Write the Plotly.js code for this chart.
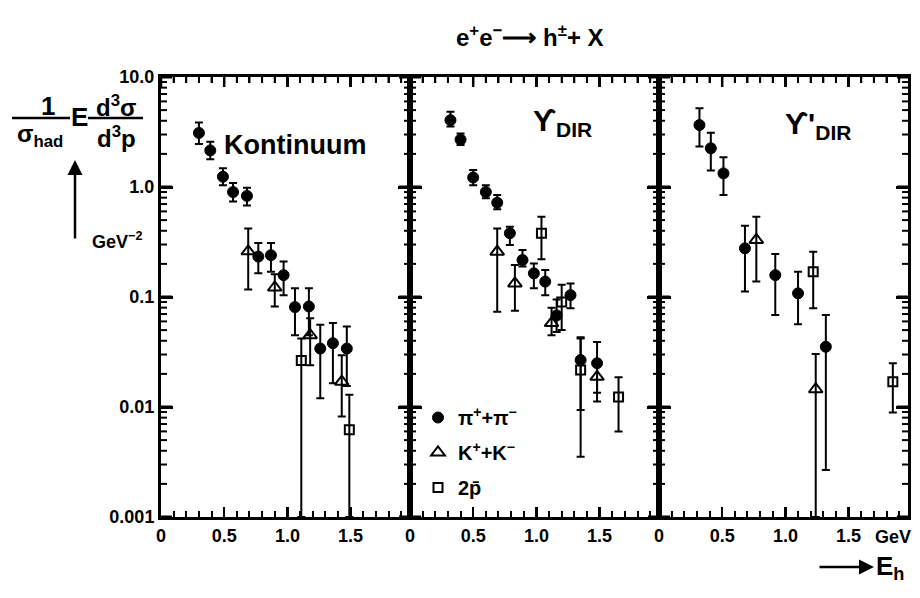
<!DOCTYPE html>
<html>
<head>
<meta charset="utf-8">
<script src="https://cdn.plot.ly/plotly-3.0.1.min.js"></script>
<style>html,body{margin:0;padding:0;background:#fff;}#chart{width:920px;height:598px;}</style>
</head>
<body>
<div id="chart"></div>
<script>
// ---------- DATA ----------
const panelNames = ["Kontinuum", "ϒ<sub>DIR</sub>", "ϒ'<sub>DIR</sub>"];
const seriesNames = ["π<sup>+</sup>+π<sup>−</sup>", "K<sup>+</sup>+K<sup>−</sup>", "2p̄"];
const xTickVals = [0, 0.5, 1.0, 1.5];
const xTickText = ["0", "0.5", "1.0", "1.5"];
const yTickVals = [0.001, 0.01, 0.1, 1, 10];
const yTickText = ["0.001", "0.01", "0.1", "1.0", "10.0"];

// Kontinuum
const kontPiX  = [0.30, 0.39, 0.49, 0.57, 0.68, 0.77, 0.87, 0.97, 1.06, 1.17, 1.26, 1.36, 1.47];
const kontPiY  = [3.1, 2.15, 1.24, 0.90, 0.83, 0.233, 0.24, 0.158, 0.081, 0.082, 0.034, 0.038, 0.034];
const kontPiHi = [3.85, 2.58, 1.48, 1.09, 0.985, 0.31, 0.31, 0.21, 0.12, 0.12, 0.056, 0.058, 0.054];
const kontPiLo = [2.46, 1.79, 1.04, 0.74, 0.68, 0.164, 0.17, 0.104, 0.045, 0.045, 0.012, 0.0164, 0.0155];
const kontKX   = [0.69, 0.90, 1.18, 1.43];
const kontKY   = [0.26, 0.122, 0.045, 0.017];
const kontKHi  = [0.42, 0.161, 0.064, 0.0295];
const kontKLo  = [0.117, 0.082, 0.024, 0.0082];
const kontPX   = [1.11, 1.49];
const kontPY   = [0.0265, 0.0062];
const kontPHi  = [0.042, 0.0129];
const kontPLo  = [0.001, 0.001];

// Upsilon direct
const dirPiX  = [0.32, 0.40, 0.50, 0.60, 0.69, 0.79, 0.89, 0.98, 1.07, 1.16, 1.27, 1.35, 1.48];
const dirPiY  = [4.05, 2.7, 1.22, 0.90, 0.72, 0.38, 0.217, 0.164, 0.138, 0.068, 0.104, 0.0267, 0.025];
const dirPiHi = [4.84, 3.07, 1.43, 1.04, 0.845, 0.436, 0.267, 0.202, 0.176, 0.095, 0.133, 0.043, 0.039];
const dirPiLo = [3.55, 2.41, 1.04, 0.79, 0.627, 0.297, 0.189, 0.12, 0.104, 0.048, 0.079, 0.0094, 0.0112];
const dirKX   = [0.69, 0.83, 1.12, 1.48];
const dirKY   = [0.258, 0.133, 0.058, 0.0188];
const dirKHi  = [0.42, 0.195, 0.08, 0.026];
const dirKLo  = [0.0736, 0.075, 0.045, 0.0135];
const dirPX   = [1.04, 1.20, 1.35, 1.65];
const dirPY   = [0.38, 0.09, 0.0217, 0.0123];
const dirPHi  = [0.537, 0.129, 0.042, 0.0186];
const dirPLo  = [0.22, 0.05, 0.00353, 0.006];

// Upsilon' direct
const dir2PiX  = [0.32, 0.41, 0.51, 0.68, 0.92, 1.10, 1.32];
const dir2PiY  = [3.66, 2.25, 1.33, 0.277, 0.158, 0.108, 0.0353];
const dir2PiHi = [5.19, 3.12, 1.86, 0.445, 0.246, 0.17, 0.0686];
const dir2PiLo = [2.33, 1.41, 0.845, 0.112, 0.0686, 0.0565, 0.00267];
const dir2KX   = [0.77, 1.24];
const dir2KY   = [0.33, 0.0145];
const dir2KHi  = [0.537, 0.0303];
const dir2KLo  = [0.138, 0.001];
const dir2PX   = [1.22, 1.85];
const dir2PY   = [0.17, 0.017];
const dir2PHi  = [0.258, 0.025];
const dir2PLo  = [0.079, 0.0089];

// ---------- BUILD ----------
const FONT = "'Liberation Sans',Arial,sans-serif";
const W = 920, H = 598, ML = 161, MR = 12, MT = 77, MB = 81;
const PW = W - ML - MR, PH = H - MT - MB;
const px = v => (v - ML) / PW;
const py = v => (H - MB - v) / PH;

const markerStyles = [
  {symbol: 'circle', size: 11, color: 'black', line: {color: 'black', width: 1}},
  {symbol: 'triangle-up-open', size: 12, color: 'black', line: {color: 'black', width: 2}},
  {symbol: 'square-open', size: 9, color: 'black', line: {color: 'black', width: 2}}
];

function mk(xs, ys, hi, lo, s, panel) {
  const ax = panel === 0 ? '' : String(panel + 1);
  return {
    type: 'scatter', mode: 'markers', x: xs, y: ys,
    xaxis: 'x' + ax, yaxis: 'y' + ax,
    name: seriesNames[s], legendgroup: 's' + s,
    showlegend: panel === 1,
    marker: markerStyles[s],
    error_y: {type: 'data', symmetric: false,
      array: ys.map((y, i) => hi[i] - y),
      arrayminus: ys.map((y, i) => y - lo[i]),
      color: 'black', thickness: 2, width: 4}
  };
}

const data = [
  mk(kontPiX, kontPiY, kontPiHi, kontPiLo, 0, 0),
  mk(kontKX, kontKY, kontKHi, kontKLo, 1, 0),
  mk(kontPX, kontPY, kontPHi, kontPLo, 2, 0),
  mk(dirPiX, dirPiY, dirPiHi, dirPiLo, 0, 1),
  mk(dirKX, dirKY, dirKHi, dirKLo, 1, 1),
  mk(dirPX, dirPY, dirPHi, dirPLo, 2, 1),
  mk(dir2PiX, dir2PiY, dir2PiHi, dir2PiLo, 0, 2),
  mk(dir2KX, dir2KY, dir2KHi, dir2KLo, 1, 2),
  mk(dir2PX, dir2PY, dir2PHi, dir2PLo, 2, 2)
];

// label aliases built from the tick arrays
const xAlias = {};
xTickVals.forEach((v, i) => { xAlias[v.toFixed(1)] = xTickText[i]; });
// log-axis minor tick positions: the 2..9 multiples of each decade
const yMinorVals = [];
yTickVals.slice(0, -1).forEach(v => { for (let m = 2; m <= 9; m++) yMinorVals.push(v * m); });
// x minor tick positions: every 0.1 across the panel range
const X_MAX = 1.97;
const Y_LOG_RANGE = [-3, 1];
const xMinorVals = [];
for (let k = 1; k * 0.1 < X_MAX; k++) { if (k % 5) xMinorVals.push(+(k * 0.1).toFixed(1)); }

const TICKFONT = {family: FONT, size: 18, color: 'black', weight: 'bold'};

function xAxis(i) {
  return {
    domain: [i / 3, (i + 1) / 3], anchor: i === 0 ? 'y' : 'y' + (i + 1),
    range: [0, X_MAX], tickmode: 'linear', tick0: xTickVals[0], dtick: xTickVals[1] - xTickVals[0],
    tickformat: '.1f', labelalias: xAlias,
    ticks: 'inside', ticklen: 10, tickwidth: 2.5, tickcolor: 'black',
    showline: true, linewidth: 3, linecolor: 'black', mirror: 'ticks',
    showgrid: false, zeroline: false,
    minor: {dtick: 0.1, ticks: 'inside', ticklen: 6, tickwidth: 2, tickcolor: 'black', showgrid: false},
    tickfont: TICKFONT
  };
}
function yAxis(i) {
  return {
    domain: [0, 1], anchor: i === 0 ? 'x' : 'x' + (i + 1),
    type: 'log', range: Y_LOG_RANGE, tickmode: 'array', tickvals: yTickVals, ticktext: yTickText,
    showticklabels: i === 0,
    ticks: 'inside', ticklen: 12, tickwidth: 3, tickcolor: 'black',
    showline: true, linewidth: 3, linecolor: 'black', mirror: 'ticks',
    showgrid: false, zeroline: false,
    tickfont: TICKFONT
  };
}

// explicit tick marks drawn as shapes on each panel frame (data coordinates of each panel's axes)
const shapes = [];
const panelW = PW / 3;
const xPerPx = X_MAX / panelW;
const logPerPx = (Y_LOG_RANGE[1] - Y_LOG_RANGE[0]) / PH;
const yTop = Math.pow(10, Y_LOG_RANGE[1]);
for (let p = 0; p < 3; p++) {
  const xs = p === 0 ? 'x' : 'x' + (p + 1);
  const ys = p === 0 ? 'y' : 'y' + (p + 1);
  const addY = (v, len, wdt) => {
    shapes.push({type: 'line', xref: xs, yref: ys, x0: 0, x1: len * xPerPx, y0: v, y1: v, line: {color: 'black', width: wdt}});
    shapes.push({type: 'line', xref: xs, yref: ys, x0: X_MAX - len * xPerPx, x1: X_MAX, y0: v, y1: v, line: {color: 'black', width: wdt}});
  };
  yTickVals.forEach(v => addY(v, 11, 3));
  yMinorVals.forEach(v => addY(v, 6, 2));
  const addX = (v, len, wdt) => {
    shapes.push({type: 'line', xref: xs, yref: ys, x0: v, x1: v, y0: yTop, y1: yTop * Math.pow(10, -len * logPerPx), line: {color: 'black', width: wdt}});
  };
  xTickVals.forEach(v => addX(v, 10, 2.5));
  xMinorVals.forEach(v => addX(v, 6, 2));
}

const ann = [];
function txt(text, x, y, size, opts) {
  ann.push(Object.assign({xref: 'paper', yref: 'paper', x: px(x), y: py(y), text: text, showarrow: false,
    font: {family: FONT, size: size, color: 'black', weight: 'bold'}, xanchor: 'center', yanchor: 'middle'}, opts || {}));
}
// title
txt("e<sup>+</sup>e<sup>−</sup>⟶ h<sup>±</sup>+ X", 530, 36, 24);
// panel labels
txt(panelNames[0], 295, 145, 27);
txt(panelNames[1], 562, 122, 30);
txt(panelNames[2], 818, 125, 30);
// y label pieces
txt("1", 48, 106, 26);
txt("σ<sub>had</sub>", 40, 136, 24);
txt("E", 79, 117, 26);
txt("d<sup>3</sup>σ", 116, 106, 24);
txt("d<sup>3</sup>p", 116, 137, 24);
txt("GeV<sup>−2</sup>", 117, 240, 18);
txt("GeV", 893, 537, 18);
txt("E<sub>h</sub>", 890, 567, 26);
// arrows
ann.push({xref: 'paper', yref: 'paper', x: px(75), y: py(160), ax: 0, ay: 80, text: '', showarrow: true,
  arrowhead: 2, arrowsize: 1.2, arrowwidth: 2.5, arrowcolor: 'black'});
ann.push({xref: 'paper', yref: 'paper', x: px(874), y: py(567), ax: -56, ay: 0, text: '', showarrow: true,
  arrowhead: 2, arrowsize: 1.2, arrowwidth: 2.5, arrowcolor: 'black'});

// fraction bars of the y label
shapes.push({type: 'line', xref: 'paper', yref: 'paper', x0: px(12), x1: px(70), y0: py(118), y1: py(118), line: {color: 'black', width: 2.5}});
shapes.push({type: 'line', xref: 'paper', yref: 'paper', x0: px(88), x1: px(143), y0: py(118), y1: py(118), line: {color: 'black', width: 2.5}});

const layout = {
  width: W, height: H, margin: {l: ML, r: MR, t: MT, b: MB},
  paper_bgcolor: 'white', plot_bgcolor: 'white',
  font: {family: FONT, color: 'black'},
  xaxis: xAxis(0), xaxis2: xAxis(1), xaxis3: xAxis(2),
  yaxis: yAxis(0), yaxis2: yAxis(1), yaxis3: yAxis(2),
  showlegend: true,
  legend: {x: px(418), y: py(398), xanchor: 'left', yanchor: 'top', bgcolor: 'rgba(0,0,0,0)',
    font: {family: FONT, size: 20, color: 'black', weight: 'bold'}, itemwidth: 30, tracegroupgap: 6},
  annotations: ann, shapes: shapes
};

Plotly.newPlot('chart', data, layout, {staticPlot: true});
</script>
</body>
</html>
